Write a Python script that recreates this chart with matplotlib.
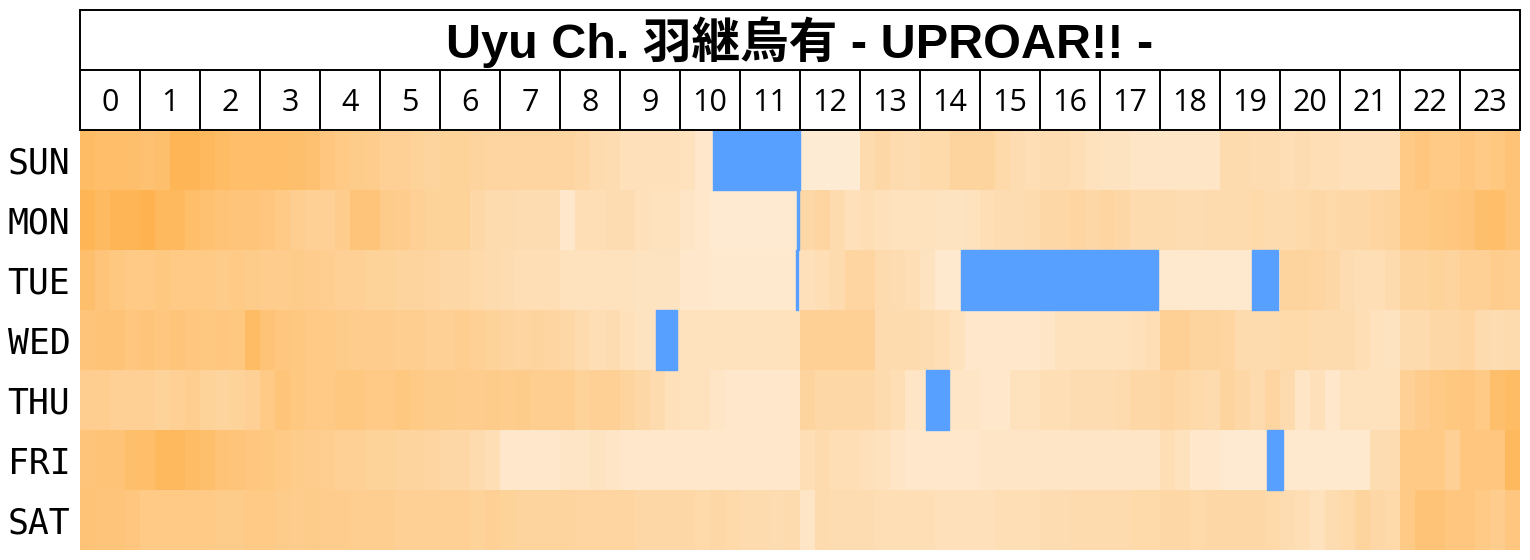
import matplotlib
matplotlib.use("Agg")
import matplotlib.pyplot as plt
import numpy as np
from matplotlib.colors import LinearSegmentedColormap
from matplotlib.patches import Rectangle

title = "Uyu Ch. 羽継烏有 - UPROAR!! -"
days = ["SUN", "MON", "TUE", "WED", "THU", "FRI", "SAT"]
hours = list(range(24))

# activity level per 15 minutes (4 values per hour), 0 = quiet, 1 = busy
sun = [0.75, 0.72, 0.72, 0.70, 0.68, 0.70, 0.85, 0.85, 0.80, 0.75, 0.72, 0.72, 0.72, 0.72, 0.70, 0.68,
       0.60, 0.55, 0.52, 0.50, 0.45, 0.45, 0.42, 0.40, 0.42, 0.42, 0.40, 0.38, 0.38, 0.38, 0.38, 0.38,
       0.38, 0.35, 0.30, 0.28, 0.22, 0.22, 0.22, 0.22, 0.20, 0.12, 0.12, 0.12, 0.12, 0.12, 0.12, 0.12,
       0.06, 0.06, 0.06, 0.06, 0.30, 0.35, 0.30, 0.28, 0.32, 0.32, 0.40, 0.40, 0.40, 0.32, 0.28, 0.25,
       0.28, 0.28, 0.25, 0.20, 0.18, 0.18, 0.15, 0.15, 0.15, 0.15, 0.15, 0.15, 0.30, 0.30, 0.28, 0.28,
       0.25, 0.28, 0.25, 0.25, 0.22, 0.22, 0.22, 0.22, 0.55, 0.60, 0.55, 0.55, 0.60, 0.55, 0.58, 0.65]
mon = [0.85, 0.78, 0.85, 0.85, 0.88, 0.80, 0.80, 0.72, 0.68, 0.65, 0.62, 0.62, 0.60, 0.55, 0.48, 0.45,
       0.45, 0.50, 0.62, 0.62, 0.52, 0.50, 0.45, 0.42, 0.42, 0.42, 0.35, 0.30, 0.30, 0.28, 0.28, 0.28,
       0.12, 0.25, 0.25, 0.28, 0.28, 0.22, 0.20, 0.20, 0.15, 0.12, 0.08, 0.08, 0.08, 0.08, 0.08, 0.08,
       0.35, 0.38, 0.30, 0.22, 0.25, 0.22, 0.20, 0.20, 0.20, 0.18, 0.18, 0.20, 0.25, 0.28, 0.28, 0.30,
       0.35, 0.35, 0.38, 0.35, 0.38, 0.35, 0.30, 0.30, 0.30, 0.28, 0.28, 0.30, 0.30, 0.30, 0.32, 0.30,
       0.30, 0.32, 0.35, 0.32, 0.35, 0.35, 0.38, 0.40, 0.55, 0.55, 0.58, 0.60, 0.62, 0.70, 0.72, 0.65]
tue = [0.70, 0.62, 0.58, 0.55, 0.55, 0.58, 0.55, 0.55, 0.55, 0.52, 0.55, 0.52, 0.50, 0.50, 0.52, 0.50,
       0.48, 0.45, 0.45, 0.42, 0.42, 0.40, 0.40, 0.38, 0.35, 0.35, 0.32, 0.30, 0.28, 0.25, 0.25, 0.25,
       0.20, 0.20, 0.20, 0.20, 0.20, 0.18, 0.18, 0.18, 0.12, 0.12, 0.10, 0.10, 0.10, 0.10, 0.10, 0.10,
       0.22, 0.25, 0.30, 0.38, 0.38, 0.30, 0.28, 0.25, 0.18, 0.10, 0.10, 0.10, 0.10, 0.10, 0.10, 0.10,
       0.10, 0.10, 0.10, 0.10, 0.10, 0.10, 0.10, 0.10, 0.10, 0.10, 0.10, 0.10, 0.10, 0.10, 0.10, 0.10,
       0.40, 0.40, 0.38, 0.35, 0.28, 0.25, 0.25, 0.30, 0.40, 0.40, 0.42, 0.40, 0.45, 0.45, 0.50, 0.48]
wed = [0.62, 0.65, 0.65, 0.60, 0.62, 0.60, 0.62, 0.60, 0.58, 0.60, 0.58, 0.75, 0.65, 0.60, 0.58, 0.55,
       0.55, 0.52, 0.50, 0.50, 0.50, 0.48, 0.48, 0.45, 0.45, 0.48, 0.45, 0.42, 0.40, 0.38, 0.40, 0.38,
       0.35, 0.30, 0.25, 0.28, 0.22, 0.18, 0.18, 0.18, 0.20, 0.20, 0.20, 0.20, 0.20, 0.20, 0.20, 0.20,
       0.45, 0.45, 0.45, 0.45, 0.45, 0.30, 0.30, 0.30, 0.28, 0.25, 0.20, 0.12, 0.12, 0.12, 0.12, 0.12,
       0.15, 0.20, 0.20, 0.20, 0.20, 0.20, 0.22, 0.25, 0.45, 0.45, 0.40, 0.40, 0.38, 0.30, 0.30, 0.30,
       0.32, 0.32, 0.30, 0.30, 0.30, 0.25, 0.20, 0.18, 0.30, 0.30, 0.35, 0.35, 0.38, 0.30, 0.28, 0.30]
thu = [0.48, 0.48, 0.45, 0.45, 0.45, 0.42, 0.45, 0.48, 0.42, 0.40, 0.42, 0.45, 0.55, 0.62, 0.58, 0.55,
       0.55, 0.58, 0.58, 0.55, 0.55, 0.58, 0.55, 0.52, 0.52, 0.50, 0.50, 0.52, 0.50, 0.52, 0.48, 0.48,
       0.48, 0.42, 0.45, 0.45, 0.40, 0.35, 0.30, 0.22, 0.20, 0.20, 0.15, 0.12, 0.12, 0.12, 0.12, 0.12,
       0.40, 0.35, 0.35, 0.35, 0.35, 0.30, 0.25, 0.15, 0.15, 0.15, 0.15, 0.15, 0.12, 0.12, 0.20, 0.20,
       0.25, 0.25, 0.28, 0.28, 0.28, 0.30, 0.35, 0.35, 0.38, 0.35, 0.32, 0.30, 0.40, 0.35, 0.30, 0.38,
       0.30, 0.15, 0.22, 0.12, 0.20, 0.20, 0.20, 0.20, 0.45, 0.50, 0.55, 0.58, 0.60, 0.55, 0.70, 0.75]
fri = [0.62, 0.65, 0.65, 0.70, 0.72, 0.80, 0.80, 0.75, 0.70, 0.65, 0.62, 0.60, 0.58, 0.55, 0.52, 0.50,
       0.48, 0.45, 0.45, 0.42, 0.42, 0.40, 0.40, 0.38, 0.35, 0.35, 0.30, 0.25, 0.12, 0.12, 0.12, 0.12,
       0.15, 0.15, 0.18, 0.15, 0.12, 0.12, 0.12, 0.12, 0.12, 0.12, 0.12, 0.12, 0.12, 0.12, 0.12, 0.12,
       0.25, 0.30, 0.25, 0.25, 0.22, 0.20, 0.15, 0.12, 0.12, 0.12, 0.12, 0.12, 0.15, 0.15, 0.15, 0.15,
       0.15, 0.15, 0.15, 0.15, 0.15, 0.15, 0.15, 0.15, 0.25, 0.20, 0.12, 0.12, 0.08, 0.08, 0.08, 0.10,
       0.10, 0.10, 0.10, 0.10, 0.10, 0.10, 0.28, 0.28, 0.55, 0.55, 0.55, 0.45, 0.60, 0.60, 0.60, 0.80]
sat = [0.65, 0.62, 0.62, 0.60, 0.55, 0.55, 0.55, 0.55, 0.55, 0.52, 0.52, 0.55, 0.55, 0.52, 0.50, 0.52,
       0.50, 0.50, 0.48, 0.48, 0.48, 0.45, 0.45, 0.45, 0.45, 0.45, 0.42, 0.45, 0.42, 0.40, 0.40, 0.40,
       0.40, 0.38, 0.38, 0.38, 0.38, 0.35, 0.35, 0.35, 0.35, 0.32, 0.35, 0.32, 0.30, 0.30, 0.28, 0.30,
       0.15, 0.30, 0.28, 0.28, 0.28, 0.25, 0.25, 0.25, 0.25, 0.22, 0.22, 0.22, 0.22, 0.25, 0.25, 0.25,
       0.28, 0.28, 0.30, 0.30, 0.30, 0.30, 0.32, 0.32, 0.35, 0.35, 0.32, 0.35, 0.35, 0.35, 0.35, 0.32,
       0.28, 0.25, 0.20, 0.28, 0.32, 0.40, 0.35, 0.32, 0.55, 0.65, 0.65, 0.60, 0.60, 0.55, 0.50, 0.60]

# streams: (day index, start minute, end minute)
streams = [(0, 633, 720), (1, 717, 719), (2, 716, 718), (2, 881, 1078),
           (2, 1172, 1198), (3, 576, 597), (4, 846, 869), (5, 1187, 1203)]

W, H = 1530, 560
fig = plt.figure(figsize=(W / 100, H / 100), dpi=100)

cmap = LinearSegmentedColormap.from_list("heat", ["#FEF0DE", "#FFB24E"])
grid = np.array([sun, mon, tue, wed, thu, fri, sat])

ax = fig.add_axes([80 / W, 10 / H, 1440 / W, 420 / H])
ax.imshow(grid, extent=(0, 1440, 7, 0), aspect="auto", interpolation="nearest",
          cmap=cmap, vmin=0, vmax=0.9)
for d, s, e in streams:
    ax.broken_barh([(s, e - s)], (d, 1), color="#57A0FF")
ax.set_xlim(0, 1440)
ax.set_ylim(7, 0)
ax.set_xticks([])
ax.set_yticks(np.arange(7) + 0.5)
ax.set_yticklabels(days, family="DejaVu Sans Mono", fontsize=25)
ax.tick_params(axis="y", length=0, pad=7)
for sp in ax.spines.values():
    sp.set_visible(False)

# header: title row and hour row
hx = fig.add_axes([80 / W, 430 / H, 1440 / W, 120 / H])
hx.set_xlim(0, 24)
hx.set_ylim(0, 2)
hx.axis("off")
hx.add_patch(Rectangle((0, 0), 24, 2, fill=False, lw=1.4, ec="black", clip_on=False))
hx.plot([0, 24], [1, 1], color="black", lw=1.4)
for h in hours[1:]:
    hx.plot([h, h], [0, 1], color="black", lw=1.4)
for h in hours:
    hx.text(h + 0.5, 0.45, str(h), ha="center", va="center", fontsize=22, family="Open Sans")
hx.text(12, 1.47, title, ha="center", va="center", fontsize=35, fontweight="bold",
        family=["Liberation Sans", "Noto Sans CJK JP"])

fig.savefig("out.png", dpi=100)
